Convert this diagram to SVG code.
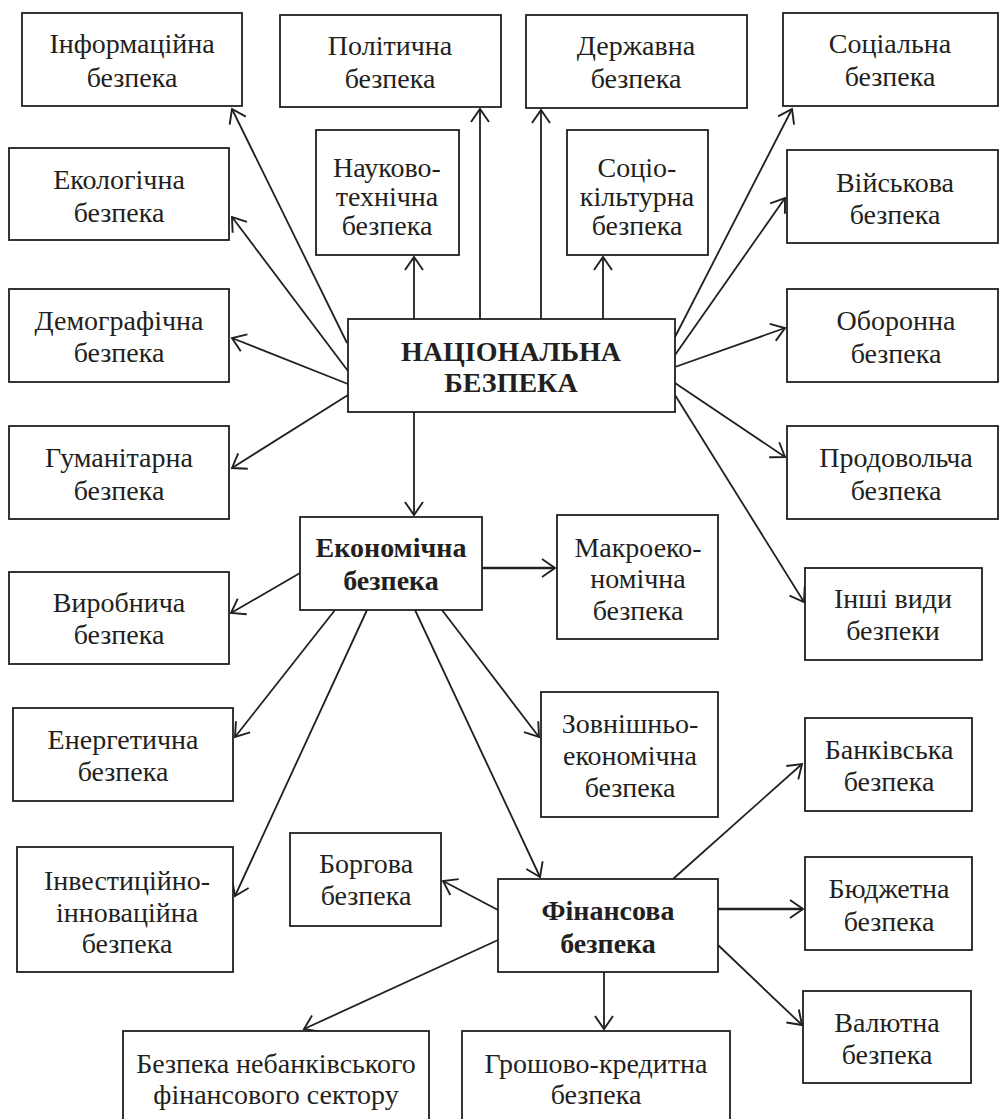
<svg xmlns="http://www.w3.org/2000/svg" width="1000" height="1119" viewBox="0 0 1000 1119">
<style>
rect.b{fill:#fff;stroke:#231f20;stroke-width:1.8}
text{font-family:"Liberation Serif","DejaVu Serif",serif;font-size:28px;fill:#231f20;text-anchor:middle}
text.bold{font-weight:bold}
.c line{stroke:#231f20;stroke-width:1.8;fill:none;marker-end:url(#a)}
.c line.t{stroke-width:2.6}
</style>
<defs>
<marker id="a" viewBox="-16 -11 18 22" refX="0" refY="0" markerWidth="18" markerHeight="22" markerUnits="userSpaceOnUse" orient="auto">
<path d="M-13,-9 L0,0 L-13,9" fill="none" stroke="#231f20" stroke-width="1.9"/>
</marker>
</defs>
<rect width="1000" height="1119" fill="#fff"/>
<g class="c" id="connectors">
<line x1="347" y1="343" x2="232" y2="109"/>
<line x1="348" y1="371" x2="232" y2="217"/>
<line x1="348" y1="384" x2="232" y2="338"/>
<line x1="348" y1="395" x2="232" y2="468"/>
<line x1="414" y1="319" x2="414" y2="257"/>
<line x1="480" y1="319" x2="480" y2="109"/>
<line x1="541" y1="319" x2="541" y2="110"/>
<line x1="603" y1="319" x2="603" y2="257"/>
<line x1="675" y1="337" x2="792" y2="109"/>
<line x1="675" y1="355" x2="785" y2="198"/>
<line x1="675" y1="367" x2="785" y2="328"/>
<line x1="675" y1="383" x2="785" y2="457"/>
<line x1="675" y1="395" x2="804" y2="602"/>
<line x1="414" y1="412" x2="414" y2="515"/>
<line class="t" x1="482" y1="568" x2="555" y2="568"/>
<line x1="300" y1="573" x2="231" y2="613"/>
<line x1="335" y1="610" x2="235" y2="737"/>
<line x1="367" y1="610" x2="235" y2="896"/>
<line x1="442" y1="610" x2="539" y2="737"/>
<line x1="415" y1="610" x2="540" y2="877"/>
<line x1="673" y1="879" x2="802" y2="764"/>
<line class="t" x1="718" y1="909" x2="803" y2="909"/>
<line x1="718" y1="945" x2="802" y2="1025"/>
<line x1="604" y1="972" x2="604" y2="1029"/>
<line x1="498" y1="910" x2="443" y2="881"/>
<line x1="498" y1="940" x2="304" y2="1029"/>
</g>
<g id="n-info"><rect class="b" x="22" y="13" width="220" height="93"/><text><tspan x="132" y="53">Інформаційна</tspan><tspan x="132" y="87">безпека</tspan></text></g>
<g id="n-polit"><rect class="b" x="280" y="15" width="221" height="92"/><text><tspan x="390" y="55">Політична</tspan><tspan x="390" y="88">безпека</tspan></text></g>
<g id="n-derzh"><rect class="b" x="526" y="15" width="221" height="93"/><text><tspan x="636" y="55">Державна</tspan><tspan x="636" y="88">безпека</tspan></text></g>
<g id="n-social"><rect class="b" x="783" y="13" width="215" height="93"/><text><tspan x="890" y="53">Соціальна</tspan><tspan x="890" y="86">безпека</tspan></text></g>
<g id="n-eco"><rect class="b" x="9" y="148" width="220" height="92"/><text><tspan x="119" y="189">Екологічна</tspan><tspan x="119" y="222">безпека</tspan></text></g>
<g id="n-nauk"><rect class="b" x="316" y="130" width="143" height="125"/><text><tspan x="387" y="177">Науково-</tspan><tspan x="387" y="206">технічна</tspan><tspan x="387" y="235">безпека</tspan></text></g>
<g id="n-sockult"><rect class="b" x="567" y="130" width="141" height="125"/><text><tspan x="637" y="177">Соціо-</tspan><tspan x="637" y="206">кільтурна</tspan><tspan x="637" y="235">безпека</tspan></text></g>
<g id="n-viysk"><rect class="b" x="787" y="150" width="211" height="93"/><text><tspan x="895" y="192">Військова</tspan><tspan x="895" y="224">безпека</tspan></text></g>
<g id="n-demo"><rect class="b" x="9" y="289" width="220" height="93"/><text><tspan x="119" y="330">Демографічна</tspan><tspan x="119" y="362">безпека</tspan></text></g>
<g id="n-hum"><rect class="b" x="9" y="426" width="220" height="93"/><text><tspan x="119" y="467">Гуманітарна</tspan><tspan x="119" y="500">безпека</tspan></text></g>
<g id="n-national"><rect class="b" x="348" y="319" width="327" height="93"/><text class="bold"><tspan x="511" y="361">НАЦІОНАЛЬНА</tspan><tspan x="511" y="392">БЕЗПЕКА</tspan></text></g>
<g id="n-oboron"><rect class="b" x="787" y="289" width="211" height="93"/><text><tspan x="896" y="330">Оборонна</tspan><tspan x="896" y="363">безпека</tspan></text></g>
<g id="n-prod"><rect class="b" x="787" y="426" width="211" height="93"/><text><tspan x="896" y="467">Продовольча</tspan><tspan x="896" y="500">безпека</tspan></text></g>
<g id="n-econ"><rect class="b" x="300" y="517" width="182" height="93"/><text class="bold"><tspan x="391" y="557">Економічна</tspan><tspan x="391" y="590">безпека</tspan></text></g>
<g id="n-macro"><rect class="b" x="557" y="515" width="161" height="124"/><text><tspan x="638" y="557">Макроеко-</tspan><tspan x="638" y="588">номічна</tspan><tspan x="638" y="620">безпека</tspan></text></g>
<g id="n-inshi"><rect class="b" x="805" y="568" width="177" height="92"/><text><tspan x="893" y="608">Інші види</tspan><tspan x="893" y="640">безпеки</tspan></text></g>
<g id="n-vyrob"><rect class="b" x="9" y="572" width="220" height="92"/><text><tspan x="119" y="612">Виробнича</tspan><tspan x="119" y="644">безпека</tspan></text></g>
<g id="n-energ"><rect class="b" x="13" y="708" width="220" height="93"/><text><tspan x="123" y="749">Енергетична</tspan><tspan x="123" y="781">безпека</tspan></text></g>
<g id="n-zovn"><rect class="b" x="541" y="692" width="177" height="125"/><text><tspan x="630" y="733">Зовнішньо-</tspan><tspan x="630" y="765">економічна</tspan><tspan x="630" y="797">безпека</tspan></text></g>
<g id="n-bank"><rect class="b" x="805" y="718" width="167" height="93"/><text><tspan x="889" y="759">Банківська</tspan><tspan x="889" y="791">безпека</tspan></text></g>
<g id="n-invest"><rect class="b" x="17" y="847" width="216" height="125"/><text><tspan x="127" y="890">Інвестиційно-</tspan><tspan x="127" y="922">інноваційна</tspan><tspan x="127" y="953">безпека</tspan></text></g>
<g id="n-borg"><rect class="b" x="290" y="833" width="151" height="93"/><text><tspan x="366" y="873">Боргова</tspan><tspan x="366" y="905">безпека</tspan></text></g>
<g id="n-fin"><rect class="b" x="498" y="879" width="220" height="93"/><text class="bold"><tspan x="608" y="920">Фінансова</tspan><tspan x="608" y="953">безпека</tspan></text></g>
<g id="n-budg"><rect class="b" x="805" y="857" width="167" height="93"/><text><tspan x="889" y="898">Бюджетна</tspan><tspan x="889" y="931">безпека</tspan></text></g>
<g id="n-valut"><rect class="b" x="803" y="991" width="168" height="92"/><text><tspan x="887" y="1032">Валютна</tspan><tspan x="887" y="1064">безпека</tspan></text></g>
<g id="n-nebank"><rect class="b" x="123" y="1031" width="306" height="95"/><text><tspan x="276" y="1073">Безпека небанківського</tspan><tspan x="276" y="1104">фінансового сектору</tspan></text></g>
<g id="n-grosh"><rect class="b" x="462" y="1031" width="268" height="95"/><text><tspan x="596" y="1073">Грошово-кредитна</tspan><tspan x="596" y="1104">безпека</tspan></text></g>
</svg>
